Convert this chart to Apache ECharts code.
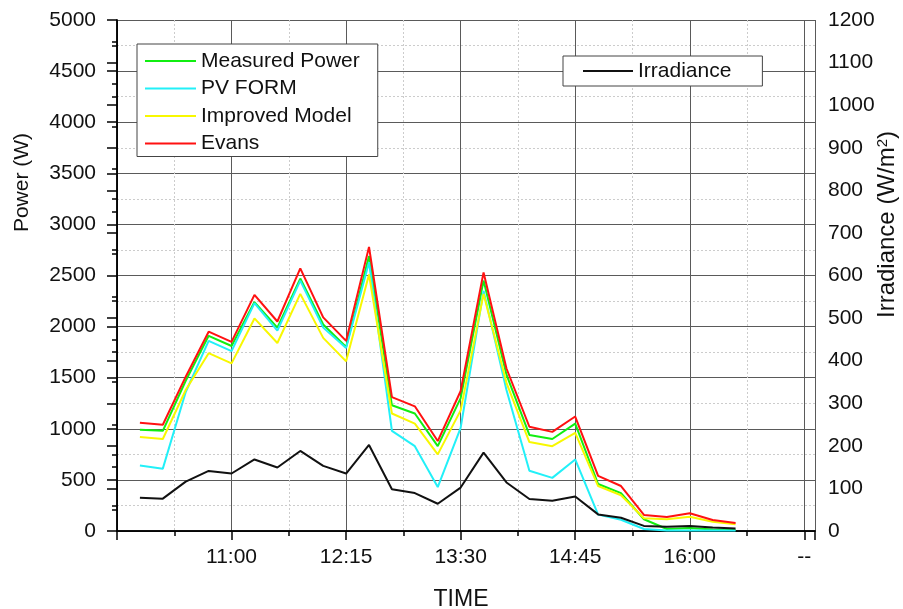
<!DOCTYPE html>
<html>
<head>
<meta charset="utf-8">
<script src="https://cdn.jsdelivr.net/npm/echarts@6/dist/echarts.min.js"></script>
<style>html,body{margin:0;padding:0;background:#fff}#c{width:903px;height:609px}</style>
</head>
<body>
<div id="c"></div>
<script>
const axisStart = '9:45';
const times = ['10:00','10:15','10:30','10:45','11:00','11:15','11:30','11:45','12:00','12:15','12:30','12:45','13:00','13:15','13:30','13:45','14:00','14:15','14:30','14:45','15:00','15:15','15:30','15:45','16:00','16:15','16:30'];
const measured   = [990, 980, 1470, 1910, 1810, 2240, 1990, 2470, 2020, 1800, 2690, 1230, 1150, 830, 1300, 2450, 1530, 940, 900, 1050, 460, 370, 115, 20, 30, 15, 10];
const pvForm     = [640, 610, 1360, 1860, 1760, 2230, 1960, 2450, 1990, 1790, 2630, 980, 830, 430, 1010, 2350, 1380, 590, 520, 700, 160, 110, 20, 5, 5, 5, 5];
const improved   = [920, 900, 1380, 1740, 1640, 2080, 1840, 2320, 1890, 1660, 2510, 1150, 1050, 750, 1180, 2320, 1450, 870, 830, 960, 440, 350, 125, 114, 140, 91, 65];
const evans      = [1060, 1040, 1510, 1950, 1850, 2310, 2050, 2570, 2090, 1860, 2780, 1310, 1220, 880, 1370, 2530, 1590, 1020, 970, 1120, 540, 440, 157, 137, 173, 108, 78];
const irradiance = [78, 76, 116, 141, 135, 168, 149, 188, 153, 135, 202, 98, 89, 64, 102, 184, 114, 75, 71, 81, 39, 31, 12, 10, 12, 8, 6];
const xTickLabels = ['', '11:00', '12:15', '13:30', '14:45', '16:00', '--'];
const powerTicks = [0, 500, 1000, 1500, 2000, 2500, 3000, 3500, 4000, 4500, 5000];
const irrTicks = [0, 100, 200, 300, 400, 500, 600, 700, 800, 900, 1000, 1100, 1200];

function toMin(t){ const p = t.split(':'); return (+p[0])*60 + (+p[1]); }
const base = toMin(axisStart);
const xs = times.map(t => toMin(t) - base);
const pairs = arr => arr.map((v,i) => [xs[i], v]);

const FONT = 'Liberation Sans';
const chart = echarts.init(document.getElementById('c'), null, {renderer:'canvas'});

const xCommon = {
  type: 'value', min: 0, max: 457, interval: 75,
  axisLine: {lineStyle: {color: '#000', width: 1.5}},
  minorTick: {show: true, splitNumber: 2, length: 5, lineStyle: {color: '#000', width: 1.5}},
  axisTick: {length: 9, lineStyle: {color: '#000', width: 1.5}}
};
const legendText = {fontSize: 21, lineHeight: 22, color: '#111', fontFamily: FONT};

const option = {
  animation: false,
  backgroundColor: '#fff',
  grid: {left: 117, right: 88, top: 20, bottom: 78, containLabel: false, outerBoundsMode: 'none'},
  legend: [{
    data: ['Measured Power', 'PV FORM', 'Improved Model', 'Evans'],
    orient: 'vertical', left: 137, top: 44,
    icon: 'rect', itemWidth: 51, itemHeight: 2, itemGap: 5.5,
    padding: [6, 18, 2, 8],
    borderColor: '#444', borderWidth: 1, backgroundColor: '#fff',
    textStyle: legendText
  }, {
    data: ['Irradiance'],
    orient: 'vertical', left: 563, top: 56,
    icon: 'rect', itemWidth: 50, itemHeight: 2,
    padding: [4, 31, 4, 20],
    borderColor: '#444', borderWidth: 1, backgroundColor: '#fff',
    textStyle: legendText
  }],
  xAxis: [Object.assign({}, xCommon, {
    position: 'bottom',
    name: 'TIME', nameLocation: 'middle', nameGap: 57, nameMoveOverlap: false,
    nameTextStyle: {fontSize: 23, color: '#111', fontFamily: FONT, padding: [0, 10, 0, 0]},
    axisLabel: {
      margin: 16, fontSize: 21, color: '#111', fontFamily: FONT,
      formatter: v => (v % 75 === 0 ? (xTickLabels[v / 75] || '') : '')
    },
    splitLine: {show: true, lineStyle: {color: '#5a5a5a', width: 1}},
    minorSplitLine: {show: true, lineStyle: {color: '#ccc', width: 1, type: [2, 2]}}
  }), Object.assign({}, xCommon, {
    position: 'top',
    axisTick: {inside: true, length: 9, lineStyle: {color: '#000', width: 1.5}},
    axisLabel: {show: false},
    splitLine: {show: false}
  })],
  yAxis: [{
    type: 'value', min: 0, max: 5000, interval: 500, position: 'left',
    name: 'Power (W)', nameLocation: 'middle', nameGap: 84, nameRotate: 90, nameMoveOverlap: false,
    nameTextStyle: {fontSize: 21, color: '#111', fontFamily: FONT, padding: [0, 0, 0, 186]},
    axisLine: {show: true, lineStyle: {color: '#000', width: 1.5}},
    axisTick: {show: true, length: 10, lineStyle: {color: '#000', width: 1.5}},
    minorTick: {show: true, splitNumber: 2, length: 5, lineStyle: {color: '#000', width: 1.5}},
    axisLabel: {margin: 21, fontSize: 21, color: '#111', fontFamily: FONT,
      formatter: v => (powerTicks.indexOf(v) >= 0 ? String(v) : '')},
    splitLine: {show: true, lineStyle: {color: '#5a5a5a', width: 1}},
    minorSplitLine: {show: true, lineStyle: {color: '#ccc', width: 1, type: [2, 2]}}
  }, {
    type: 'value', min: 0, max: 1200, interval: 100, position: 'right',
    name: 'Irradiance (W/m{sup|2})', nameLocation: 'middle', nameGap: 60, nameRotate: 90, nameMoveOverlap: false,
    nameTextStyle: {fontSize: 24, color: '#111', fontFamily: FONT, padding: [0, 0, 0, 102],
      rich: {sup: {fontSize: 15, color: '#111', fontFamily: FONT, verticalAlign: 'top', padding: [0, 0, 9, 0]}}},
    axisLine: {show: true, lineStyle: {color: '#000', width: 1.5}},
    axisTick: {show: true, inside: true, length: 10, lineStyle: {color: '#000', width: 1.5}},
    minorTick: {show: true, splitNumber: 2, length: 5, lineStyle: {color: '#000', width: 1.5}},
    axisLabel: {margin: 13, fontSize: 21, color: '#111', fontFamily: FONT,
      formatter: v => (irrTicks.indexOf(v) >= 0 ? String(v) : '')},
    splitLine: {show: false}
  }],
  series: [
    {name: 'Measured Power', type: 'line', data: pairs(measured), symbol: 'none', showSymbol: false, lineStyle: {color: '#11ee11', width: 2}, itemStyle: {color: '#11ee11'}},
    {name: 'PV FORM', type: 'line', data: pairs(pvForm), symbol: 'none', showSymbol: false, lineStyle: {color: '#22f0f8', width: 2}, itemStyle: {color: '#22f0f8'}},
    {name: 'Improved Model', type: 'line', data: pairs(improved), symbol: 'none', showSymbol: false, lineStyle: {color: '#f8f800', width: 2}, itemStyle: {color: '#f8f800'}},
    {name: 'Evans', type: 'line', data: pairs(evans), symbol: 'none', showSymbol: false, lineStyle: {color: '#ff1111', width: 2}, itemStyle: {color: '#ff1111'}},
    {name: 'Irradiance', type: 'line', yAxisIndex: 1, data: pairs(irradiance), symbol: 'none', showSymbol: false, lineStyle: {color: '#111', width: 2}, itemStyle: {color: '#111'}}
  ]
};
chart.setOption(option);
</script>
</body>
</html>
